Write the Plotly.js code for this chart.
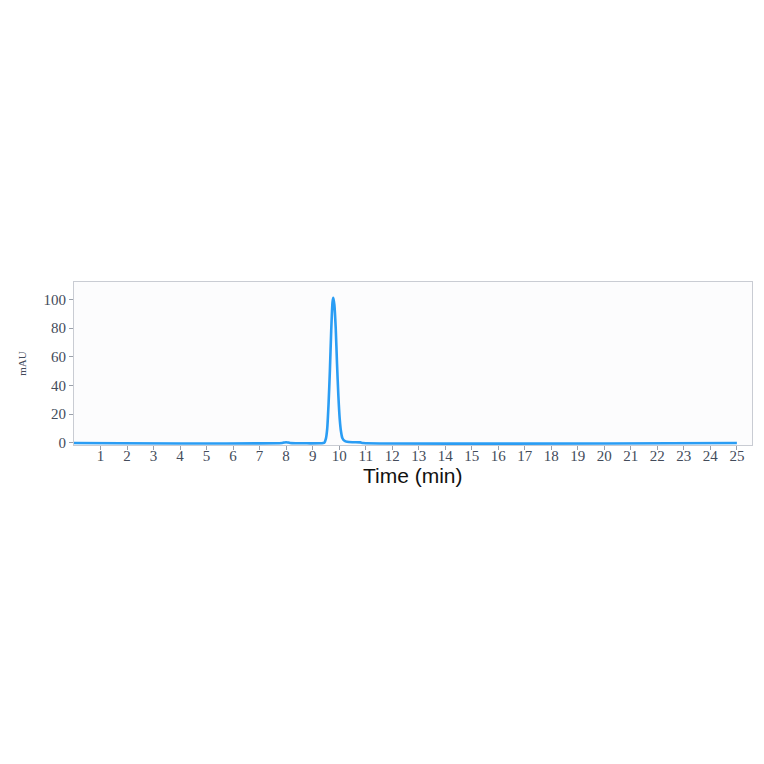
<!DOCTYPE html>
<html>
<head>
<meta charset="utf-8">
<script src="https://cdn.plot.ly/plotly-3.0.1.min.js"></script>
<style>
  html, body { margin: 0; padding: 0; background: #ffffff; }
  #chart { width: 764px; height: 764px; }
</style>
</head>
<body>
<div id="chart"></div>
<script>
"use strict";

// chromatogram: retention time (min) and absorbance (mAU)
var timeMin = [0, 7.85, 7.95, 8.0, 8.05, 8.15, 9.40, 9.45, 9.50, 9.55, 9.60, 9.65, 9.70, 9.75,
    9.78, 9.82, 9.87, 9.92, 9.97, 10.02, 10.07, 10.12, 10.20, 10.30, 10.50, 10.80, 10.90, 25];
var absorbance = [0, 0, 0.4, 0.5, 0.4, 0, 0, 0.5, 3, 10, 27, 50, 78, 98,
    101, 96, 80, 55, 33, 17, 8, 3.5, 1.5, 0.8, 0.5, 0.4, 0, 0];

var xTicks = [1, 2, 3, 4, 5, 6, 7, 8, 9, 10, 11, 12, 13, 14, 15, 16, 17, 18, 19, 20, 21, 22, 23, 24, 25];
var yTicks = [0, 20, 40, 60, 80, 100];

var tickFont = { family: "Liberation Serif, DejaVu Serif, serif", size: 15, color: "#434b5a" };

var data = [{
    x: timeMin,
    y: absorbance,
    type: "scatter",
    mode: "lines",
    line: { color: "#2a9df4", width: 2.6, shape: "spline", smoothing: 0.6 },
    hoverinfo: "none"
}];

var layout = {
    width: 764,
    height: 764,
    margin: { l: 74, r: 12, t: 282, b: 319 },
    paper_bgcolor: "#ffffff",
    plot_bgcolor: "#fcfcfd",
    showlegend: false,
    xaxis: {
        range: [0, 25.57],
        tickvals: xTicks,
        ticks: "outside",
        ticklen: 4,
        tickcolor: "#9aa0aa",
        tickfont: tickFont,
        ticklabelstandoff: -7,   // labels hug the axis in the original
        showgrid: false,
        zeroline: false,
        showline: true,
        mirror: true,
        linecolor: "#c9ccd3",
        linewidth: 1
    },
    yaxis: {
        range: [-1.4, 112],
        tickvals: yTicks,
        ticks: "outside",
        ticklen: 4,
        tickcolor: "#9aa0aa",
        tickfont: tickFont,
        showgrid: false,
        zeroline: false,
        showline: true,
        mirror: true,
        linecolor: "#c9ccd3",
        linewidth: 1,
        title: {
            text: "mAU",
            font: { family: "Liberation Serif, DejaVu Serif, serif", size: 11, color: "#434b5a" },
            standoff: 14
        }
    },
    // the x title sits closer to the tick labels than title.standoff allows
    annotations: [{
        text: "Time (min)",
        xref: "paper",
        yref: "paper",
        x: 0.5,
        y: 0,
        xanchor: "center",
        yanchor: "top",
        yshift: -17,
        showarrow: false,
        font: { family: "Liberation Sans, Arial, sans-serif", size: 21, color: "#111111" }
    }]
};

Plotly.newPlot("chart", data, layout, { displayModeBar: false, staticPlot: true });
</script>
</body>
</html>
